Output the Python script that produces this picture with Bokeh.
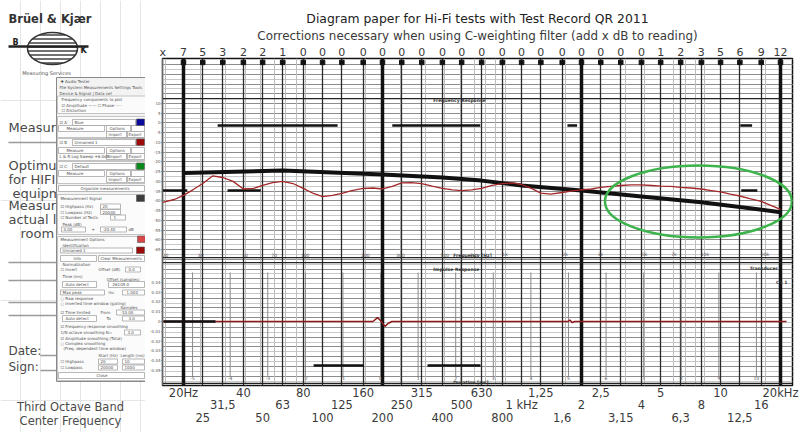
import numpy as np
from bokeh.plotting import figure
from bokeh.models import (Range1d, LogAxis, LinearAxis, FixedTicker, Title,
                          Span, LogScale, LinearScale, Grid)
from bokeh.layouts import row
from bokeh.embed import file_html
from bokeh.resources import INLINE
from bokeh.core.properties import value

# ---------------- data ----------------
band_freqs = [20, 25, 31.5, 40, 50, 63, 80, 100, 125, 160, 200, 250, 315, 400,
              500, 630, 800, 1000, 1250, 1600, 2000, 2500, 3150, 4000, 5000,
              6300, 8000, 10000, 12500, 16000, 20000]
c_weight_corrections = ["7", "5", "3", "2", "2", "1", "0", "0", "0", "0", "0",
                        "0", "0", "0", "0", "0", "0", "0", "0", "0", "0", "0",
                        "0", "0", "1", "2", "3", "5", "6", "9", "12"]

row1_freqs = [20, 40, 80, 160, 315, 630, 1250, 2500, 5000, 10000, 20000]
row1_labels = ["20Hz", "40", "80", "160", "315", "630", "1,25", "2,5", "5", "10", "20kHz"]
row2_freqs = [31.5, 63, 125, 250, 500, 1000, 2000, 4000, 8000, 16000]
row2_labels = ["31,5", "63", "125", "250", "500", "1 kHz", "2", "4", "8", "16"]
row3_freqs = [25, 50, 100, 200, 400, 800, 1600, 3150, 6300, 12500]
row3_labels = ["25", "50", "100", "200", "400", "800", "1,6", "3,15", "6,3", "12,5"]

# thick black "optimum" curve drawn on the paper (dB)
optimum_freqs = [20, 63, 200, 400, 630, 1000, 2000, 4000, 8000, 20000]
optimum_db = [-25.7, -24.4, -26.5, -28.0, -29.6, -32.1, -34.7, -37.7, -40.7, -45.8]

# red measured frequency response (dB)
measured_freqs = [15.7, 18, 20, 22.4, 25, 28, 31.5, 35.5, 40, 45,
                  50, 56, 63, 71, 80, 90, 100, 112, 125, 140,
                  160, 180, 200, 224, 250, 280, 315, 355, 400, 450,
                  500, 560, 630, 710, 800, 900, 1000, 1120, 1250, 1400,
                  1600, 1800, 2000, 2240, 2500, 2800, 3150, 3550, 4000, 4500,
                  5000, 5600, 6300, 7100, 8000, 9000, 10000, 11200, 12500, 14000,
                  16000, 18000, 20000]
measured_db = [-40.8, -39.3, -37.2, -34.2, -31.1, -27.2, -28.0, -30.0, -33.9, -33.6,
               -32.1, -30.6, -30.0, -31.1, -33.6, -36.2, -37.8, -37.2, -36.2, -34.7,
               -33.6, -33.4, -33.9, -32.6, -30.8, -30.6, -31.1, -32.4, -33.6, -34.4,
               -34.7, -34.4, -33.6, -32.1, -31.1, -30.8, -31.6, -33.6, -36.0, -36.5,
               -35.7, -34.9, -34.4, -33.9, -33.1, -32.6, -32.1, -31.8, -31.8, -32.1,
               -32.4, -32.6, -33.1, -33.4, -33.9, -34.7, -35.4, -36.5, -37.5, -38.8,
               -40.3, -42.4, -44.4]

# red impulse response (time units of the software panel, value)
impulse_time = [-5.8, -0.2, -0.08, 0.02, 0.12, 0.2, 0.3, 4.98, 5.04, 5.1, 5.16, 10.8]
impulse_value = [0.0, 0.0, 0.004, 0.0, -0.005, -0.002, 0.0, 0.0, 0.0015, -0.0012, 0.0, 0.0]

# thick scanned paper bars
paper_bar_f0 = [29.7, 224, 1700, 12560, 15.7, 33.3, 12700]
paper_bar_f1 = [119, 620, 1900, 14400, 20.9, 48.9, 15300]
paper_bar_db = [-1.3, -1.3, -1.3, -1.3, -34.7, -34.7, -34.7]
imp_bar_t0 = [-5.77, -1.78, 1.25]
imp_bar_t1 = [-4.39, -0.45, 2.66]
imp_bar_v = [0.0, -0.045, -0.045]

# software axes tick labels
sw_freq_ticks = [20, 30, 50, 70, 100, 200, 300, 500, 700, 1000, 2000, 3000, 5000, 7000, 10000, 20000]
sw_freq_labels = ["20", "30", "50", "70", "100", "200", "300", "500", "700", "1k", "2k", "3k", "5k", "7k", "10k", "20k"]
sw_db_ticks = [10, 5, 0, -5, -10, -15, -20, -25, -30, -35, -40, -45, -50, -55, -60, -65]
imp_ticks = [0.04, 0.03, 0.02, 0.01, 0.0, -0.01, -0.02, -0.03, -0.04, -0.05]
time_ticks = [-5, -4, -3, -2, -1, 0, 1, 2, 3, 4, 5, 6, 7, 8, 9, 10]

title_main = "Diagram paper for Hi-Fi tests with Test Record QR 2011"
title_sub = "Corrections necessary when using C-weighting filter (add x dB to reading)"

# ---------------- ranges ----------------
F_LO, F_HI = 15.69, 22980.0
DB_BOT, DB_TOP = -134.8, 33.1
IMP_BOT, IMP_TOP = -0.0653, 0.2684
T_LO, T_HI = -5.80, 10.96
SW_LO, SW_HI = 19.32, 27440.0

FONT_NAME = "DejaVu Sans"
FONT = value(FONT_NAME)
INK = "#3a3a3a"
H = 432

p = figure(width=655, height=H, x_axis_type="log",
           x_range=Range1d(F_LO, F_HI), y_range=Range1d(DB_BOT, DB_TOP),
           output_backend="svg", toolbar_location=None, title=None,
           x_axis_location=None, y_axis_location=None,
           min_border_left=17, min_border_right=8, min_border_top=58, min_border_bottom=47,
           background_fill_color="white", border_fill_color="white",
           outline_line_color="#111111", outline_line_width=1.5)
p.frame_align = False
p.extra_x_ranges = {"sw": Range1d(SW_LO, SW_HI), "t": Range1d(T_LO, T_HI)}
p.extra_x_scales = {"sw": LogScale(), "t": LinearScale()}
p.extra_y_ranges = {"imp": Range1d(IMP_BOT, IMP_TOP)}

# ---- grid of the paper and software ----
h_light = [float(v) for v in np.arange(-132.5, 33.0, 2.5)]
h_dark = [float(v) for v in np.arange(-130.0, 33.0, 5.0)]
p.add_layout(Grid(dimension=1, ticker=FixedTicker(ticks=h_light),
                  grid_line_color="#c8c8c8", grid_line_width=1))
p.add_layout(Grid(dimension=1, ticker=FixedTicker(ticks=h_dark),
                  grid_line_color="#8c8c8c", grid_line_width=1))
sw_grid = [float(m * 10 ** e) for e in range(1, 5) for m in range(1, 10) if 20 <= m * 10 ** e <= 20000]
p.add_layout(Grid(dimension=0, ticker=FixedTicker(ticks=sw_grid), x_range_name="sw",
                  grid_line_color="#bdbdbd", grid_line_width=1))
p.add_layout(Grid(dimension=0, ticker=FixedTicker(ticks=band_freqs),
                  grid_line_color="#2a2a2a", grid_line_width=1.3))
p.add_layout(Grid(dimension=0, ticker=FixedTicker(ticks=[20, 200, 2000, 20000]),
                  grid_line_color="#111111", grid_line_width=3.5))

# software panel frames
for loc in [12.5, -69.1]:
    p.add_layout(Span(location=loc, dimension="width", line_color="#222222", line_width=1.2, level="underlay"))
for loc in [0.060, -0.0632]:
    p.add_layout(Span(location=loc, dimension="width", y_range_name="imp",
                      line_color="#222222", line_width=1.2, level="underlay"))

# impulse time grid
p.segment(x0=time_ticks, x1=time_ticks, y0=0.05, y1=-0.057, x_range_name="t",
          y_range_name="imp", line_color="#8a8a8a", line_width=1)

# thick paper bars
p.segment(x0=paper_bar_f0, x1=paper_bar_f1, y0=paper_bar_db, y1=paper_bar_db,
          line_color="#111111", line_width=2.5)

# band squares under the correction numbers
p.scatter(x=band_freqs, y=[DB_TOP - 2.0] * len(band_freqs), marker="square",
          size=4.5, color="#111111")

# ---- curves ----
p.line(optimum_freqs, optimum_db, line_color="#111111", line_width=4)
p.line(measured_freqs, measured_db, line_color="#a3282a", line_width=1.3)
p.line(impulse_time, impulse_value, x_range_name="t", y_range_name="imp",
       line_color="#8e1a1a", line_width=1.5)
p.segment(x0=imp_bar_t0, x1=imp_bar_t1, y0=imp_bar_v, y1=imp_bar_v, x_range_name="t",
          y_range_name="imp", line_color="#111111", line_width=2.5)

# highlight ellipse
p.ellipse(x=[7740], y=[-40.3], width=187, height=72, width_units="screen",
          height_units="screen", fill_color=None, line_color="#3cb44b", line_width=2.5)

# ---- software panel small texts ----
p.text(x=sw_freq_ticks, y=[-67.6] * len(sw_freq_ticks), text=sw_freq_labels, x_range_name="sw",
       text_font=FONT, text_font_size=value("4.5px"), text_color="#555555",
       text_align="center", text_baseline="middle")
p.text(x=time_ticks, y=[-0.058] * len(time_ticks), text=[str(t) for t in time_ticks],
       x_range_name="t", y_range_name="imp", text_font=FONT, text_font_size=value("4.5px"),
       text_color="#555555", text_align="center", text_baseline="middle")
p.text(x=[360, 454], y=[11.4, -68.2], text=["Frequency Response", "Frequency [Hz]"],
       text_font=FONT, text_font_size=value("4.5px"), text_font_style="bold",
       text_color="#333333", text_baseline="middle")
p.text(x=[360, 454, 14000, 19000], y=[0.053, -0.0625, 0.054, 0.040],
       text=["Impulse Response", "Duration [ms]", "Transducer", "Ch 1"],
       y_range_name="imp", text_font=FONT, text_font_size=value("4.5px"),
       text_font_style="bold", text_color="#333333", text_baseline="middle")

# ---- axes ----
top_ticks = [15.75] + band_freqs
top_labels = ["x"] + c_weight_corrections
top_axis = LogAxis(ticker=FixedTicker(ticks=top_ticks),
                   major_label_overrides=dict(zip(top_ticks, top_labels)),
                   major_tick_line_color=None, minor_tick_line_color=None,
                   major_tick_out=0, major_tick_in=0, minor_tick_out=0, minor_tick_in=0,
                   axis_line_color=None, major_label_standoff=0,
                   major_label_text_font=FONT_NAME, major_label_text_font_size="11px",
                   major_label_text_color=INK)
p.add_layout(top_axis, "above")
p.add_layout(Title(text=title_sub, align="center", text_font=FONT_NAME, text_font_size="11.9px",
                   text_font_style="normal", text_color=INK, standoff=0), "above")
p.add_layout(Title(text=title_main, align="center", text_font=FONT_NAME, text_font_size="12.4px",
                   text_font_style="normal", text_color="#222222", standoff=1), "above")

# three staggered rows of third-octave centre frequencies in one axis
bottom_ticks = row1_freqs + row2_freqs + row3_freqs
bottom_labels = ([f"{s}\n \n " for s in row1_labels] + [f" \n{s}\n " for s in row2_labels]
                 + [f" \n \n{s}" for s in row3_labels])
bottom_axis = LogAxis(ticker=FixedTicker(ticks=bottom_ticks),
                      major_label_overrides=dict(zip(bottom_ticks, bottom_labels)),
                      major_tick_line_color=None, minor_tick_line_color=None,
                      major_tick_out=0, major_tick_in=0, minor_tick_out=0, minor_tick_in=0,
                      axis_line_color=None, major_label_standoff=0,
                      major_label_text_font=FONT_NAME, major_label_text_font_size="11.5px",
                      major_label_text_line_height=0.9, major_label_text_color=INK)
p.add_layout(bottom_axis, "below")


def db_of_imp(v):
    return DB_BOT + (v - IMP_BOT) * (DB_TOP - DB_BOT) / (IMP_TOP - IMP_BOT)


left_ticks = [float(v) for v in sw_db_ticks] + [round(db_of_imp(v), 4) for v in imp_ticks]
left_labels = [str(v) for v in sw_db_ticks] + [("0" if v == 0 else f"{v:.2f}") for v in imp_ticks]
left_axis = LinearAxis(ticker=FixedTicker(ticks=left_ticks),
                       major_label_overrides=dict(zip(left_ticks, left_labels)),
                       major_tick_out=1, major_tick_in=0, minor_tick_out=0, minor_tick_in=0,
                       minor_tick_line_color=None,
                       major_label_standoff=1, axis_line_color="#666666",
                       major_tick_line_color="#666666",
                       major_label_text_font=FONT_NAME, major_label_text_font_size="4px",
                       major_label_text_color="#555555")
p.add_layout(left_axis, "left")

# ---------------- left panel: paper form texts + software dialog ----------------
q = figure(width=145, height=H, x_range=Range1d(0, 145), y_range=Range1d(H, 0),
           output_backend="svg", toolbar_location=None, title=None,
           x_axis_location=None, y_axis_location=None, min_border=0,
           outline_line_color=None, background_fill_color="white", border_fill_color="white")
q.frame_align = False

q.text(x=[8], y=[18], text=["Brüel & Kjær"], text_font=FONT, text_font_size=value("11.5px"),
       text_font_style="bold", text_color="#333333", text_baseline="middle")
q.ellipse(x=[52], y=[48], width=50, height=32, fill_color="white", line_color="#333333",
          line_width=1.5, hatch_pattern="horizontal_line", hatch_color="#333333",
          hatch_scale=4, hatch_weight=1.4)
q.segment(x0=[8], x1=[88], y0=[46], y1=[46], line_color="#222222", line_width=2.5)
q.text(x=[12, 80], y=[42, 50], text=["B", "K"], text_font=FONT, text_font_size=value("8px"),
       text_font_style="bold", text_color="#222222", text_baseline="middle")
q.text(x=[46], y=[72], text=["Measuring Services"], text_font=FONT, text_font_size=value("5px"),
       text_color="#555555", text_align="center", text_baseline="middle")

form_texts = ["Measuring", "Optimum", "for HIFI", "equipment", "Measured", "actual listening", "room"]
q.text(x=[8, 8, 8, 12, 8, 8, 20], y=[127, 165, 179, 193, 205, 219, 233], text=form_texts,
       text_font=FONT, text_font_size=value("13px"), text_color="#4a4a4a", text_baseline="middle")
q.text(x=[8, 8], y=[350, 366], text=["Date:", "Sign:"], text_font=FONT,
       text_font_size=value("12px"), text_color="#4a4a4a", text_baseline="middle")
q.segment(x0=[8, 8, 8, 8, 8, 40, 40], x1=[58, 58, 58, 58, 58, 58, 58],
          y0=[142, 262, 280, 302, 315, 355, 370], y1=[142, 262, 280, 302, 315, 355, 370],
          line_color="#9a9a9a", line_width=1.5)
q.text(x=[70, 70], y=[406, 420], text=["Third Octave Band", "Center Frequency"], text_font=FONT,
       text_font_size=value("11.5px"), text_color="#4a4a4a", text_align="center",
       text_baseline="middle")

# dialog window
q.quad(left=[56], right=[149], top=[77], bottom=[381], fill_color="#f3f3f3",
       line_color="#8a8a8a", line_width=1)
groups = [(57, 147, 95.5, 113), (57, 147, 116, 137), (57, 147, 138, 160), (57, 147, 161, 183),
          (57, 147, 194, 234), (57, 147, 236, 380)]
q.quad(left=[g[0] for g in groups], right=[g[1] for g in groups], top=[g[2] for g in groups],
       bottom=[g[3] for g in groups], fill_color="#fbfbfb", line_color="#b5b5b5", line_width=0.8)
fields = [(72, 135, 119, 125), (72, 135, 139, 145), (72, 135, 163, 169),
          (58, 104, 125, 131), (106, 130, 125, 131), (131, 144, 125, 131), (106, 126, 131, 137), (127, 144, 131, 137),
          (58, 104, 147, 153), (106, 130, 147, 153), (131, 144, 147, 153), (106, 126, 153, 159), (127, 144, 153, 159),
          (58, 104, 170, 176), (106, 130, 170, 176), (131, 144, 170, 176), (106, 126, 176, 182), (127, 144, 176, 182),
          (58, 144, 185, 191), (100, 120, 203.5, 208.5), (100, 120, 209, 214), (110, 125, 214.5, 219.5),
          (61, 85, 226.5, 231.5), (100, 126, 226.5, 231.5), (60, 132, 247.5, 252.5),
          (60, 96, 255, 261), (98, 144, 255, 261), (125, 140, 266.5, 271.5),
          (62, 96, 281, 287), (108, 144, 281, 287), (60, 104, 289.5, 294.5), (122, 144, 289.5, 294.5),
          (116, 144, 309.5, 314.5), (62, 96, 315, 321), (122, 144, 315.5, 320.5), (124, 140, 329.5, 334.5),
          (98, 117, 358.5, 363.5), (122, 144, 358.5, 363.5), (98, 117, 364.5, 369.5), (122, 144, 364.5, 369.5),
          (58, 144, 372, 378)]
q.quad(left=[f[0] for f in fields], right=[f[1] for f in fields], top=[f[2] for f in fields],
       bottom=[f[3] for f in fields], fill_color="white", line_color="#9a9a9a", line_width=0.7)
swatches = [(136, 144, 118.5, 125, "#0a0a9c"), (136, 144, 138.5, 145, "#9c0a0a"),
            (136, 144, 162.5, 169, "#0a8a1a"), (136, 144, 194.5, 201, "#3c3c3c"),
            (137, 145, 235.5, 242, "#d84848"), (136, 144, 246.5, 253, "#9c0a0a")]
q.quad(left=[s[0] for s in swatches], right=[s[1] for s in swatches], top=[s[2] for s in swatches],
       bottom=[s[3] for s in swatches], fill_color=[s[4] for s in swatches], line_color="#555555",
       line_width=0.6)

dialog_items = [
    (60, 81, "✚  Audio Tester"), (59, 87, "File  System  Measurements  Settings  Tools"),
    (59, 92.5, "Device & Signal  |  Data set"), (61, 98.5, "Frequency components to plot"),
    (61, 104.5, "☑ Amplitude ——      ☐ Phase ·····"), (61, 110, "☐ Distortion"),
    (59, 122, "☑ A"), (74, 122, "Blue"), (66, 128, "Measure"), (109, 128, "Options"),
    (108, 134, "Import"), (128, 134, "Export"),
    (59, 142, "☑ B"), (74, 142, "Unnamed 1"), (66, 150, "Measure"), (109, 150, "Options"),
    (59, 156, "L & R Log Sweep +6.0dB"), (108, 156, "Import"), (128, 156, "Export"),
    (59, 166, "☑ C"), (74, 166, "Default"), (66, 173, "Measure"), (109, 173, "Options"),
    (108, 179, "Import"), (128, 179, "Export"), (80, 188, "Organize measurements"),
    (60, 198, "Measurement Signal"), (60, 206, "☑ Highpass (Hz)"), (102, 206, "20"),
    (60, 211.5, "☐ Lowpass (Hz)"), (102, 211.5, "20000"), (60, 217, "☐ Number of Tests"),
    (113, 217, "1"), (62, 224, "Peak (dB)"), (63, 229, "0.00"), (91, 229, "+"),
    (102, 229, "-20.40"), (128, 229, "dB"), (60, 239, "Measurement Options"),
    (62, 245, "Identification"), (62, 250, "Unnamed 1"), (73, 258, "Info"),
    (100, 258, "Clear Measurements"), (62, 263.5, "Normalization"), (60, 269, "☐ Invert"),
    (98, 269, "Offset (dB)"), (128, 269, "0.0"), (62, 275.5, "Time (ms)"),
    (106, 278.5, "Offset (samples)"), (65, 284, "Auto detect"), (112, 284, "26105.0"),
    (62, 292, "Max peak"), (108, 292, "Inc"), (126, 292, "1.000"), (60, 298, "○ Raw response"),
    (60, 303, "○ Inverted time window (gating)"), (120, 307, "Samples"),
    (60, 312, "☑ Time limited"), (100, 312, "From"), (120, 312, "-10.00"),
    (65, 318, "Auto detect"), (106, 318, "To"), (128, 318, "3.0"),
    (60, 326, "☑ Frequency response smoothing"), (60, 332, "1/N octave smoothing  N="),
    (127, 332, "3.0"), (60, 337.5, "☑ Amplitude smoothing (Total)"),
    (60, 343, "○ Complex smoothing"), (63, 347.5, "(Freq. dependent time window)"),
    (98, 355, "Start (Hz)"), (120, 355, "Length (ms)"), (60, 361, "☐ Highpass"),
    (100, 361, "20"), (124, 361, "10"), (60, 367, "☐ Lowpass"), (100, 367, "20000"),
    (124, 367, "1000"), (96, 375, "Close"),
]
q.text(x=[d[0] for d in dialog_items], y=[d[1] for d in dialog_items], text=[d[2] for d in dialog_items],
       text_font=FONT, text_font_size=value("4px"), text_color="#505050", text_baseline="middle")

layout = row(q, p)
open("out.html", "w").write(file_html(layout, INLINE))
